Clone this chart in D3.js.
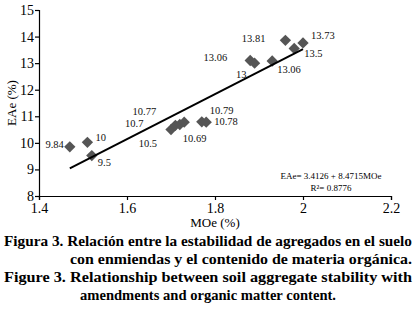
<!DOCTYPE html>
<html>
<head>
<meta charset="utf-8">
<script src="https://cdn.jsdelivr.net/npm/d3@7"></script>
<style>
  body { margin: 0; background: #fff; }
  svg { display: block; }
  svg text { font-family: 'Liberation Serif', 'Times New Roman', serif; }
</style>
</head>
<body>
<svg id="chart" width="417" height="314"></svg>
<script>
// MOe (%) vs EAe (%)
const moe = [1.47, 1.51, 1.52, 1.70, 1.71, 1.72, 1.73, 1.77, 1.78, 1.88, 1.89, 1.93, 1.96, 1.98, 2.00]
const eae = [9.85, 10.02, 9.52, 10.5, 10.66, 10.69, 10.78, 10.79, 10.78, 13.1, 13.0, 13.08, 13.86, 13.55, 13.76]
const pointLabels = ['9.84', '10', '9.5', '10.5', '10.7', '10.69', '10.77', '10.79', '10.78', '13.06', '13', '13.06', '13.81', '13.5', '13.73']
// label offsets (dx, dy) in px relative to the marker
const labelOffsets = [
  [-6, -2], [8, -5], [6, 7], [-14, 14], [-32, -2], [3, 14], [-28, -11], [8, -11], [8, -1],
  [-23, -3], [-8, 11], [5, 8], [-20, -2], [10, 5], [8, -7]
]
const xTicks = [1.4, 1.6, 1.8, 2.0, 2.2]
const yTicks = [8, 9, 10, 11, 12, 13, 14, 15]
const fitIntercept = -3.4126
const fitSlope = 8.4715
const captionLines = [
  'Figura 3. Relación entre la estabilidad de agregados en el suelo',
  'con enmiendas y el contenido de materia orgánica.',
  'Figure 3. Relationship between soil aggregate stability with',
  'amendments and organic matter content.'
]

const svg = d3.select('#chart')
const x = d3.scaleLinear().domain([1.4, 2.2]).range([39, 391])
const y = d3.scaleLinear().domain([8, 15]).range([196, 10])

const xAxis = svg.append('g')
  .attr('transform', `translate(0,${y(8)})`)
  .call(d3.axisBottom(x).tickValues(xTicks).tickSize(4).tickPadding(3).tickFormat(d3.format('~g')))
const yAxis = svg.append('g')
  .attr('transform', `translate(${x(1.4)},0)`)
  .call(d3.axisLeft(y).tickValues(yTicks).tickSize(4).tickPadding(1).tickFormat(d3.format('d')))

for (const a of [xAxis, yAxis]) {
  a.select('.domain').attr('stroke', '#000').attr('stroke-width', 1.2)
  a.selectAll('.tick line').attr('stroke', '#000').attr('stroke-width', 1.2)
  a.selectAll('.tick text')
    .attr('fill', '#000')
    .style('font-family', "'Liberation Serif', serif")
    .style('font-size', '14px')
}

svg.append('text')
  .attr('transform', `translate(11,${(y(15) + y(8)) / 2}) rotate(-90)`)
  .attr('text-anchor', 'middle')
  .attr('dominant-baseline', 'central')
  .style('font-size', '13px')
  .text('EAe (%)')

svg.append('text')
  .attr('x', x(1.8))
  .attr('y', 227)
  .attr('text-anchor', 'middle')
  .style('font-size', '13px')
  .text('MOe (%)')

// fitted line across the data range
const xMin = d3.min(moe)
const xMax = d3.max(moe)
const fit = [xMin, xMax].map((v) => [v, fitIntercept + fitSlope * v])

// markers
const pts = moe.map((v, i) => ({ x: v, y: eae[i], label: pointLabels[i], off: labelOffsets[i] }))
const diamond = d3.symbol().type(d3.symbolSquare).size(64)
svg.append('g').selectAll('path')
  .data(pts)
  .join('path')
  .attr('d', diamond)
  .attr('transform', (d) => `translate(${x(d.x)},${y(d.y)}) rotate(45)`)
  .attr('fill', '#555')

svg.append('path')
  .datum(fit)
  .attr('fill', 'none')
  .attr('stroke', '#000')
  .attr('stroke-width', 2)
  .attr('d', d3.line().x((d) => x(d[0])).y((d) => y(d[1])))

svg.append('g').selectAll('text')
  .data(pts)
  .join('text')
  .attr('x', (d) => x(d.x) + d.off[0])
  .attr('y', (d) => y(d.y) + d.off[1])
  .attr('text-anchor', (d) => d.off[0] < 0 ? 'end' : 'start')
  .attr('dominant-baseline', 'central')
  .attr('fill', '#111')
  .style('font-size', '10.5px')
  .text((d) => d.label)

// equation
svg.append('text')
  .attr('x', 331).attr('y', 179)
  .attr('text-anchor', 'middle')
  .style('font-size', '9px')
  .text('EAe= 3.4126 + 8.4715MOe')
svg.append('text')
  .attr('x', 331).attr('y', 191)
  .attr('text-anchor', 'middle')
  .style('font-size', '9px')
  .text('R²= 0.8776')

// caption
const capPos = [
  { x: 4, y: 246, w: 408 },
  { x: 70, y: 264, w: 342 },
  { x: 4, y: 282, w: 408 },
  { x: 80, y: 300, w: 256 }
]
svg.append('g').selectAll('text')
  .data(captionLines)
  .join('text')
  .attr('x', (d, i) => capPos[i].x)
  .attr('y', (d, i) => capPos[i].y)
  .attr('textLength', (d, i) => capPos[i].w)
  .attr('lengthAdjust', 'spacingAndGlyphs')
  .style('font-size', '15px')
  .style('font-weight', 'bold')
  .text((d) => d)
</script>
</body>
</html>
